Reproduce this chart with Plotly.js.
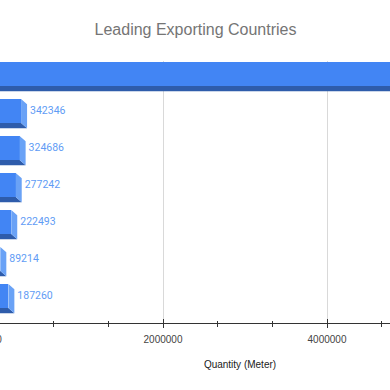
<!DOCTYPE html>
<html><head><meta charset="utf-8">
<script src="https://cdn.plot.ly/plotly-3.0.1.min.js"></script>
<style>html,body{margin:0;padding:0;overflow:hidden;background:#fff}#chart{position:absolute;left:-20px;top:0;width:520px;height:390px}</style>
</head><body><div id="chart"></div>
<script>
// Data (top to bottom); country names and the first bar's label are cropped out of the reference
var rank = [1, 2, 3, 4, 5, 6, 7];
var quantity = [5400000, 342346, 324686, 277242, 222493, 89214, 187260];
var valueLabels = ['', '342346', '324686', '277242', '222493', '89214', '187260'];
var xTickStep = 2000000;
var xMinorPerMajor = 3;

(function () {
  // style constants
  var PX_PER_UNIT_X = 82 / 1e6;       // screen px per meter
  var DX = 6 / PX_PER_UNIT_X;          // 3D depth in x (data units)
  var LABEL_GAP = 3 / PX_PER_UNIT_X;   // gap between bar end and label
  var DY = 0.14;                       // 3D depth in y (category units)
  var H = 0.65;                        // front face height (category units)
  var cFront = '#4285f4', cBottom = '#2e5cab', cSide = '#6aa2f6', cLabel = '#5f9cf5';

  var ys = rank.map(function (r) { return r - 1; });
  var frontLen = quantity.map(function (v) { return v - DX; });
  var labelX = quantity.map(function (v) { return v + LABEL_GAP; });

  var sideX = [], sideY = [], botX = [], botY = [];
  for (var i = 0; i < quantity.length; i++) {
    var fe = frontLen[i], yTop = ys[i] - H / 2, yBot = ys[i] + H / 2;
    sideX.push(fe, fe + DX, fe + DX, fe, fe, null);
    sideY.push(yTop, yTop + DY, yBot + DY, yBot, yTop, null);
    botX.push(0, fe, fe + DX, 0, 0, null);
    botY.push(yBot, yBot, yBot + DY, yBot + DY, yBot, null);
  }

  var traces = [
    { type: 'scatter', x: botX, y: botY, mode: 'lines', fill: 'toself', fillcolor: cBottom,
      line: { width: 0, color: cBottom }, hoverinfo: 'skip', showlegend: false },
    { type: 'scatter', x: sideX, y: sideY, mode: 'lines', fill: 'toself', fillcolor: cSide,
      line: { width: 0, color: cSide }, hoverinfo: 'skip', showlegend: false },
    { type: 'bar', orientation: 'h', x: frontLen, y: ys, width: H,
      marker: { color: cFront, line: { width: 0 } }, hoverinfo: 'skip', showlegend: false },
    { type: 'scatter', mode: 'text', x: labelX, y: ys, text: valueLabels,
      textposition: 'middle right', cliponaxis: true,
      textfont: { family: 'Roboto', size: 10.5, color: cLabel }, hoverinfo: 'skip', showlegend: false },
    { type: 'scatter', mode: 'markers', x: [0], y: [0], xaxis: 'x2', yaxis: 'y', opacity: 0, hoverinfo: 'skip', showlegend: false }
  ];

  var xRange = [0, 482 / PX_PER_UNIT_X];
  var layout = {
    width: 520, height: 390,
    margin: { l: 19, r: 19, t: 61, b: 67, pad: 0 },
    paper_bgcolor: '#ffffff', plot_bgcolor: '#ffffff',
    showlegend: false,
    title: { text: 'Leading Exporting Countries', font: { family: 'Liberation Sans', size: 16, color: '#757575' },
             xref: 'container', x: 215.5 / 520, xanchor: 'center', yref: 'container', y: 1 - 29 / 390, yanchor: 'middle' },
    xaxis: {
      range: xRange, tickmode: 'linear', tick0: 0, dtick: xTickStep, tickformat: 'd',
      showgrid: true, gridcolor: '#d9d9d9', gridwidth: 1, zeroline: false,
      showline: true, linecolor: '#333333', linewidth: 1,
      ticks: 'outside', ticklen: 4, tickcolor: '#333333', ticklabelstandoff: 3,
      minor: { tickmode: 'linear', tick0: 0, dtick: xTickStep / xMinorPerMajor, ticks: 'outside', ticklen: 2.5, tickcolor: '#333333', showgrid: false },
      tickfont: { family: 'Liberation Sans', size: 10, color: '#444444' },
      title: { text: 'Quantity (Meter)', font: { family: 'Liberation Sans', size: 10, color: '#222222' }, standoff: 16 },
      fixedrange: true
    },
    xaxis2: {
      overlaying: 'x', anchor: 'y', side: 'bottom', range: xRange,
      tickmode: 'linear', tick0: 0, dtick: xTickStep,
      showticklabels: false, showgrid: false, zeroline: false, showline: false,
      ticks: 'inside', ticklen: 4, tickcolor: '#333333',
      minor: { tickmode: 'linear', tick0: 0, dtick: xTickStep / xMinorPerMajor, ticks: 'inside', ticklen: 2.5, tickcolor: '#333333', showgrid: false },
      fixedrange: true
    },
    yaxis: {
      range: [6.73, -0.351], showticklabels: false, showgrid: false, zeroline: false, showline: false,
      ticks: '', fixedrange: true
    },
    bargap: 0
  };

  Plotly.newPlot('chart', traces, layout, { displayModeBar: false, staticPlot: true });
})();
</script></body></html>
